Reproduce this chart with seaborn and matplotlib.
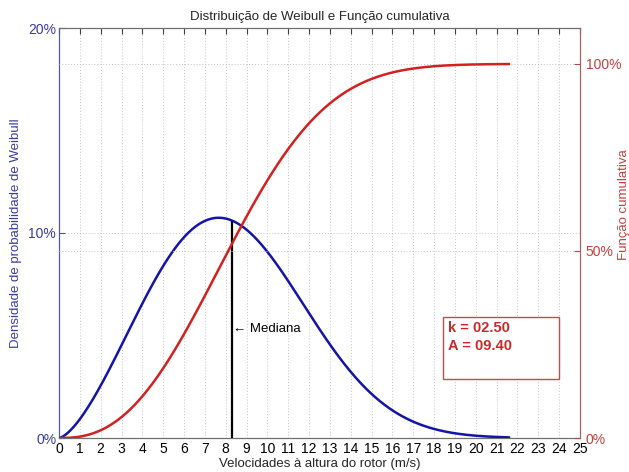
import numpy as np
import pandas as pd
import matplotlib
matplotlib.use("Agg")
import matplotlib.pyplot as plt
import seaborn as sns

# Weibull parameters shown in the text box
k_shape = 2.50
A_scale = 9.40

# Wind speed range of the curves (m/s) and median marker position
speed_max = 21.6
median_speed = 8.3

x_ticks = list(range(0, 26))
left_ticks = [0.0, 0.10, 0.20]
left_labels = ["0%", "10%", "20%"]
right_ticks = [0.0, 0.5, 1.0]
right_labels = ["0%", "50%", "100%"]

speeds = np.linspace(0.0, speed_max, 400)
z = (speeds / A_scale) ** k_shape
density = (k_shape / A_scale) * (speeds / A_scale) ** (k_shape - 1) * np.exp(-z)
cumulative = 1.0 - np.exp(-z)
df = pd.DataFrame({"v": speeds, "pdf": density, "cdf": cumulative})
median_pdf = (k_shape / A_scale) * (median_speed / A_scale) ** (k_shape - 1) * np.exp(-(median_speed / A_scale) ** k_shape)

sns.set_style("white")
plt.rcParams["font.family"] = ["Liberation Sans", "DejaVu Sans"]

BLUE = "#1414a8"
BLUE_TXT = "#3a3aa0"
RED = "#d42020"
RED_TXT = "#c04040"
GRID = "#c4c4c4"

fig = plt.figure(figsize=(6.29, 4.72), dpi=100)
ax = fig.add_axes([59 / 629, 34 / 472, 521 / 629, 410 / 472])
ax2 = ax.twinx()

# vertical grid at each integer speed
for xv in x_ticks[1:-1]:
    ax.axvline(xv, color=GRID, lw=0.7, ls=(0, (1, 2)), zorder=0)
ax.axhline(0.10, color=GRID, lw=0.7, ls=(0, (1, 2)), zorder=0)
ax2.axhline(0.5, color=GRID, lw=0.7, ls=(0, (1, 2)), zorder=0)
ax2.axhline(1.0, color=GRID, lw=0.7, ls=(0, (1, 2)), zorder=0)

sns.lineplot(data=df, x="v", y="pdf", ax=ax, color=BLUE, lw=1.8, zorder=3)
sns.lineplot(data=df, x="v", y="cdf", ax=ax2, color=RED, lw=1.8, zorder=3)

ax.vlines(median_speed, 0, median_pdf, color="black", lw=1.6, zorder=4)
ax.text(median_speed + 0.05, 0.053, "\u2190 Mediana", fontsize=9.5, va="center", ha="left", color="black")

ax.set_xlim(0, 25)
ax.set_ylim(0, 0.20)
ax2.set_ylim(0, 1.096)
ax.set_xticks(x_ticks)
ax.set_xticklabels([str(t) for t in x_ticks], fontsize=10)
ax.set_yticks(left_ticks)
ax.set_yticklabels(left_labels, fontsize=10, color=BLUE_TXT)
ax2.set_yticks(right_ticks)
ax2.set_yticklabels(right_labels, fontsize=10, color=RED_TXT)

ax.tick_params(axis="x", direction="in", length=4, top=True, pad=3, colors="#404040", labelcolor="black")
ax.tick_params(axis="y", direction="in", length=4, pad=2, colors="#5050a0", labelcolor=BLUE_TXT)
ax2.tick_params(axis="y", direction="in", length=4, pad=4, colors="#a05050", labelcolor=RED_TXT)

for s in ["top", "bottom"]:
    ax.spines[s].set_color("#707070")
    ax2.spines[s].set_visible(False)
ax.spines["left"].set_color("#5858a0")
ax2.spines["left"].set_visible(False)
ax2.spines["right"].set_color("#a86060")
ax.spines["right"].set_visible(False)
for sp in list(ax.spines.values()) + list(ax2.spines.values()):
    sp.set_linewidth(0.9)

ax.set_xlabel("Velocidades à altura do rotor (m/s)", fontsize=9.5, labelpad=1)
ax.set_ylabel("Densidade de probabilidade de Weibull", fontsize=9.5, color=BLUE_TXT)
ax.yaxis.set_label_coords(-0.071, 0.5)
ax2.set_ylabel("Função cumulativa", fontsize=9.5, color=RED_TXT, rotation=90)
ax2.yaxis.set_label_coords(1.073, 0.57)
ax.set_title("Distribuição de Weibull e Função cumulativa", fontsize=9.5, pad=6)

# parameter box
ax2.add_patch(plt.Rectangle(((443 - 59) / 521, (438 - 379) / 410), 116 / 521, 62 / 410,
                            transform=ax2.transAxes, fill=True, facecolor="white",
                            edgecolor="#b85050", lw=1.0, zorder=5))
ax2.text((448 - 59) / 521, (438 - 328) / 410, f"k = {k_shape:05.2f}", transform=ax2.transAxes,
         fontsize=10.5, fontweight="bold", color="#cc2828", va="center", ha="left", zorder=6)
ax2.text((448 - 59) / 521, (438 - 346) / 410, f"A = {A_scale:05.2f}", transform=ax2.transAxes,
         fontsize=10.5, fontweight="bold", color="#cc2828", va="center", ha="left", zorder=6)

fig.savefig("out.png", dpi=100)
